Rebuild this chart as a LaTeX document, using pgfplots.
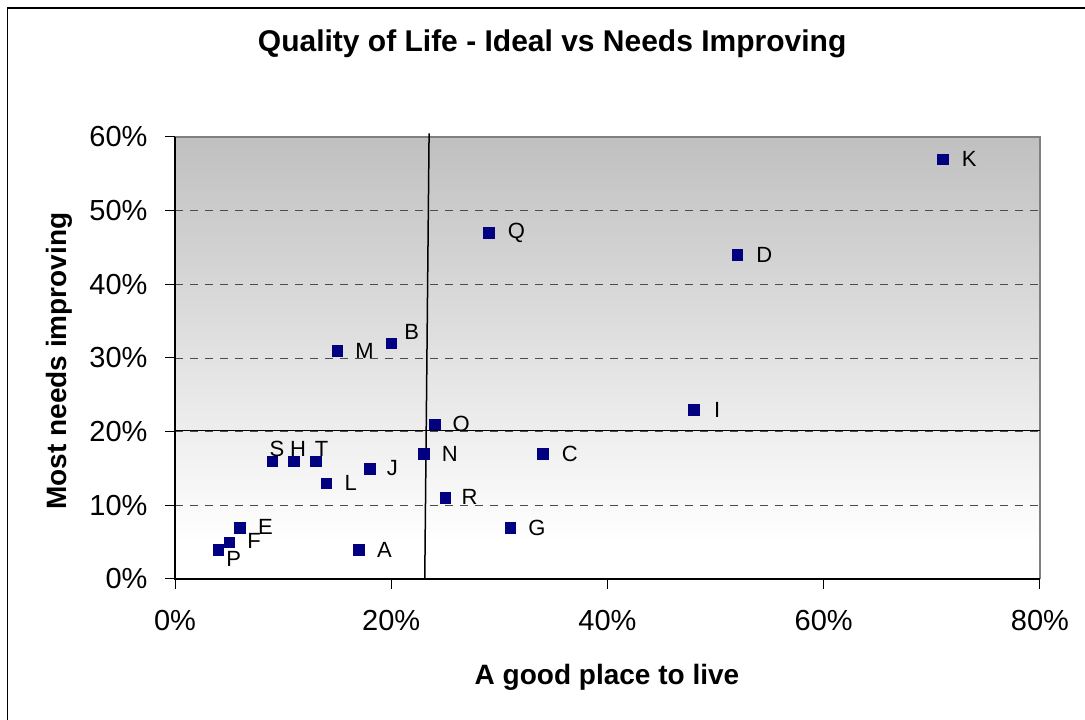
\documentclass[border=0pt]{standalone}
\usepackage{fontspec}
\setmainfont{Liberation Sans}
\usepackage{pgfplots}
\pgfplotsset{compat=1.18}
\usepackage{pgfplotstable}
\definecolor{navy}{HTML}{000080}
\definecolor{shadetop}{HTML}{C0C0C0}
\pgfdeclareverticalshading{plotshade}{100bp}{color(0bp)=(white); color(29.2bp)=(white); color(75bp)=(shadetop); color(100bp)=(shadetop)}

\pgfplotstableread{
x  y  lab dx  dy
71 57 K   19  0
52 44 D   19  0
29 47 Q   19  0
20 32 B   13  11
15 31 M   18  0
48 23 I   20  0
24 21 O   18  0
23 17 N   18  0
34 17 C   19  0
9  16 S   -3  12
11 16 H   -4  12
13 16 T   -1  12
18 15 J   17  0
14 13 L   18  0
25 11 R   16  1
31 7  G   18  0
6  7  E   18  0
5  5  F   18  1
4  4  P   8   -9
17 4  A   18  0
}\pts

\begin{document}
\begin{tikzpicture}[x=1pt,y=1pt]
\useasboundingbox (0,0) rectangle (1085,720);
\draw[line width=1.5pt] (7.5,0) -- (7.5,712) -- (1085,712);
\begin{axis}[
  at={(175pt,141pt)}, anchor=south west,
  scale only axis, width=865pt, height=442pt,
  xmin=0, xmax=80, ymin=0, ymax=60,
  xtick={0,20,40,60,80}, ytick={0,10,20,30,40,50,60},
  xticklabels={0\%,20\%,40\%,60\%,80\%},
  yticklabels={0\%,10\%,20\%,30\%,40\%,50\%,60\%},
  axis line style={draw=none},
  xtick pos=bottom, ytick pos=left,
  tick align=outside, major tick length=10pt,
  tick style={black, line width=1pt},
  minor tick num=0,
  ymajorgrids,
  grid style={black!70, line width=0.8pt, dash pattern=on 8pt off 7pt},
  axis background/.style={shading=plotshade},
  clip=false,
  tick label style={font=\fontsize{29}{32}\selectfont},
  yticklabel style={xshift=-14pt},
  xticklabel style={yshift=-18pt},
  title={Quality of Life - Ideal vs Needs Improving},
  title style={font=\bfseries\fontsize{30}{34}\selectfont, at={(rel axis cs:0.436,1.197)}, anchor=center},
  xlabel={A good place to live},
  xlabel style={font=\bfseries\fontsize{28}{32}\selectfont, at={(rel axis cs:0.4994,-0.223)}, anchor=center},
  ylabel={Most needs improving},
  ylabel style={font=\bfseries\fontsize{28}{32}\selectfont, at={(rel axis cs:-0.134,0.4932)}, anchor=center, rotate=0},
]
\draw[black!50, line width=2pt] (rel axis cs:0,1) -- (rel axis cs:1,1) -- (rel axis cs:1,0);
\draw[black, line width=1.5pt] (rel axis cs:0,1) -- (rel axis cs:0,0) -- (rel axis cs:1,0);
\addplot[black, line width=1.5pt] coordinates {(0,20.15) (80,20.15)};
\addplot[black, line width=1.5pt] coordinates {(23.1,0) (23.5,60.5)};
\addplot[only marks, mark=square*, mark size=5.3pt, color=navy,
  point meta=explicit symbolic,
  visualization depends on={\thisrow{dx} \as \dx},
  visualization depends on={\thisrow{dy} \as \dy},
  nodes near coords,
  nodes near coords style={font=\fontsize{22}{24}\selectfont, text=black, anchor=west, inner sep=0pt, xshift=\dx pt, yshift=\dy pt},
] table[x=x, y=y, meta=lab] {\pts};
\end{axis}
\end{tikzpicture}
\end{document}
